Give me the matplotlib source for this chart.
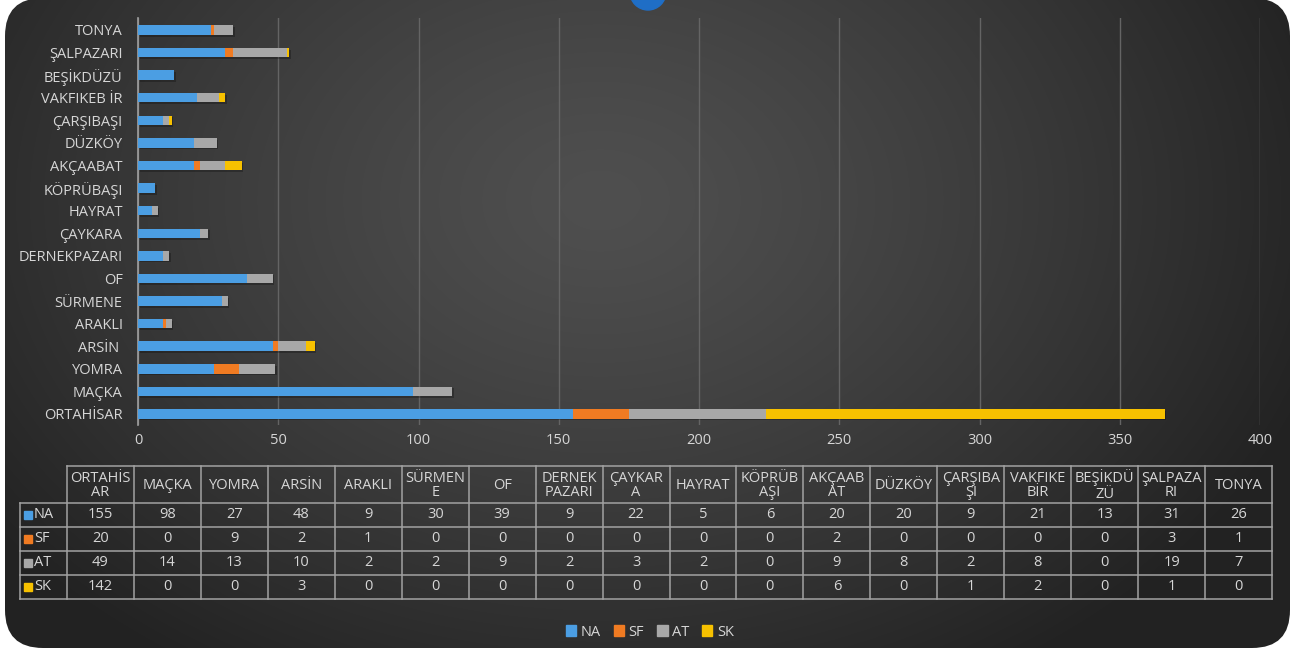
import numpy as np
import matplotlib.pyplot as plt
from matplotlib.patches import FancyBboxPatch, Rectangle, Circle
from matplotlib.lines import Line2D

plt.rcParams['font.family'] = ['Open Sans', 'DejaVu Sans']

# Districts (bottom to top on the bar axis, left to right in the table)
categories = ["ORTAHİSAR", "MAÇKA", "YOMRA", "ARSİN ", "ARAKLI", "SÜRMENE", "OF",
              "DERNEKPAZARI", "ÇAYKARA", "HAYRAT", "KÖPRÜBAŞI", "AKÇAABAT",
              "DÜZKÖY", "ÇARŞIBAŞI", "VAKFIKEB İR", "BEŞİKDÜZÜ", "ŞALPAZARI", "TONYA"]
table_headers = ["ORTAHİS\nAR", "MAÇKA", "YOMRA", "ARSİN", "ARAKLI", "SÜRMEN\nE", "OF",
                 "DERNEK\nPAZARI", "ÇAYKAR\nA", "HAYRAT", "KÖPRÜB\nAŞI", "AKÇAAB\nAT",
                 "DÜZKÖY", "ÇARŞIBA\nŞI", "VAKFIKE\nBİR", "BEŞİKDÜ\nZÜ", "ŞALPAZA\nRI", "TONYA"]

series_names = ["NA", "SF", "AT", "SK"]
na_values = [155, 98, 27, 48, 9, 30, 39, 9, 22, 5, 6, 20, 20, 9, 21, 13, 31, 26]
sf_values = [20, 0, 9, 2, 1, 0, 0, 0, 0, 0, 0, 2, 0, 0, 0, 0, 3, 1]
at_values = [49, 14, 13, 10, 2, 2, 9, 2, 3, 2, 0, 9, 8, 2, 8, 0, 19, 7]
sk_values = [142, 0, 0, 3, 0, 0, 0, 0, 0, 0, 0, 6, 0, 1, 2, 0, 1, 0]
x_ticks = [0, 50, 100, 150, 200, 250, 300, 350, 400]

series_values = [na_values, sf_values, at_values, sk_values]
series_colors = ["#4b9ee3", "#f07b22", "#a8a8a8", "#f7c100"]
text_color = "#d6d6d6"
fs = 10.5

W, H = 1295, 653
fig = plt.figure(figsize=(W / 100, H / 100), dpi=100, facecolor="white")

# ---- background panel: rounded dark card with a soft radial gradient ----
ax_bg = fig.add_axes([0, 0, 1, 1])
ax_bg.set_xlim(0, W)
ax_bg.set_ylim(H, 0)
ax_bg.axis("off")
yy, xx = np.mgrid[0:H, 0:W]
d = np.sqrt(((xx - 600) / 760.0) ** 2 + ((yy - 200) / 560.0) ** 2)
d = np.clip(d, 0, 1)
shade = (0x4f - (0x4f - 0x22) * d ** 1.3) / 255.0
img = np.dstack([shade, shade, shade])
card = FancyBboxPatch((5, -2), 1285, 650,
                      boxstyle="round,pad=0,rounding_size=38",
                      facecolor="none", edgecolor="none")
ax_bg.add_patch(card)
im = ax_bg.imshow(img, extent=(0, W, H, 0), aspect="auto", interpolation="bilinear")
im.set_clip_path(card)
ax_bg.add_patch(Circle((648, -8), 18, color="#1f6ec6", zorder=3))

# ---- stacked horizontal bars ----
ax = fig.add_axes([138 / W, 1 - 425 / H, 1122 / W, 407 / H])
ax.set_facecolor("none")
ypos = np.arange(len(categories))
left = np.zeros(len(categories))
bar_h = 0.42
for name, vals, col in zip(series_names, series_values, series_colors):
    vals = np.array(vals, dtype=float)
    # faint drop shadow under each segment
    ax.barh(ypos - 0.08, vals, left=left + 0.6, height=bar_h, color="black",
            alpha=0.25, zorder=2, linewidth=0)
    ax.barh(ypos, vals, left=left, height=bar_h, color=col, zorder=3,
            linewidth=0, label=name)
    left += vals

ax.set_xlim(0, 400)
ax.set_ylim(-0.49, 17.53)
ax.set_xticks(x_ticks)
ax.set_yticks(ypos)
ax.set_yticklabels(categories)
ax.xaxis.grid(True, color="#646464", linewidth=1.0, zorder=0)
ax.set_axisbelow(True)
for s in ["top", "right", "bottom"]:
    ax.spines[s].set_visible(False)
ax.spines["left"].set_color("#a0a0a0")
ax.spines["left"].set_linewidth(1.2)
ax.tick_params(axis="both", length=0, colors=text_color, labelsize=fs)
ax.tick_params(axis="y", pad=11)
ax.tick_params(axis="x", pad=6)

# ---- data table below the chart ----
ax_t = fig.add_axes([0, 0, 1, 1])
ax_t.set_xlim(0, W)
ax_t.set_ylim(H, 0)
ax_t.axis("off")
ax_t.set_facecolor("none")

col_left = 67
col_right = 1272
ncol = len(categories)
col_w = (col_right - col_left) / ncol
row_edges = [466, 503, 527, 551, 575, 599]
label_left = 20
line_kw = dict(color="#a2a2a2", linewidth=1.1)

ax_t.add_line(Line2D([col_left, col_right], [row_edges[0]] * 2, **line_kw))
for y in row_edges[1:]:
    ax_t.add_line(Line2D([label_left, col_right], [y, y], **line_kw))
ax_t.add_line(Line2D([label_left, label_left], [row_edges[1], row_edges[-1]], **line_kw))
for i in range(ncol + 1):
    x = col_left + i * col_w
    ax_t.add_line(Line2D([x, x], [row_edges[0], row_edges[-1]], **line_kw))

for i, hdr in enumerate(table_headers):
    cx = col_left + (i + 0.5) * col_w
    ax_t.text(cx, (row_edges[0] + row_edges[1]) / 2 + 1, hdr, ha="center", va="center",
              fontsize=fs, color=text_color, linespacing=1.0)

for r, (name, vals, col) in enumerate(zip(series_names, series_values, series_colors)):
    cy = (row_edges[r + 1] + row_edges[r + 2]) / 2
    ax_t.add_patch(Rectangle((24, cy - 4), 8, 8, color=col))
    ax_t.text(34, cy, name, ha="left", va="center", fontsize=fs, color=text_color)
    for i, v in enumerate(vals):
        cx = col_left + (i + 0.5) * col_w
        ax_t.text(cx, cy, str(v), ha="center", va="center", fontsize=fs, color=text_color)

# ---- legend ----
handles = [Rectangle((0, 0), 1, 1, color=c) for c in series_colors]
leg = fig.legend(handles, series_names, loc="center", bbox_to_anchor=(650 / W, 1 - 632 / H),
                 ncol=4, frameon=False, fontsize=fs, handlelength=0.7, handleheight=0.7,
                 handletextpad=0.3, columnspacing=0.9)
for t in leg.get_texts():
    t.set_color(text_color)

fig.savefig("out.png", dpi=100, facecolor="white")
